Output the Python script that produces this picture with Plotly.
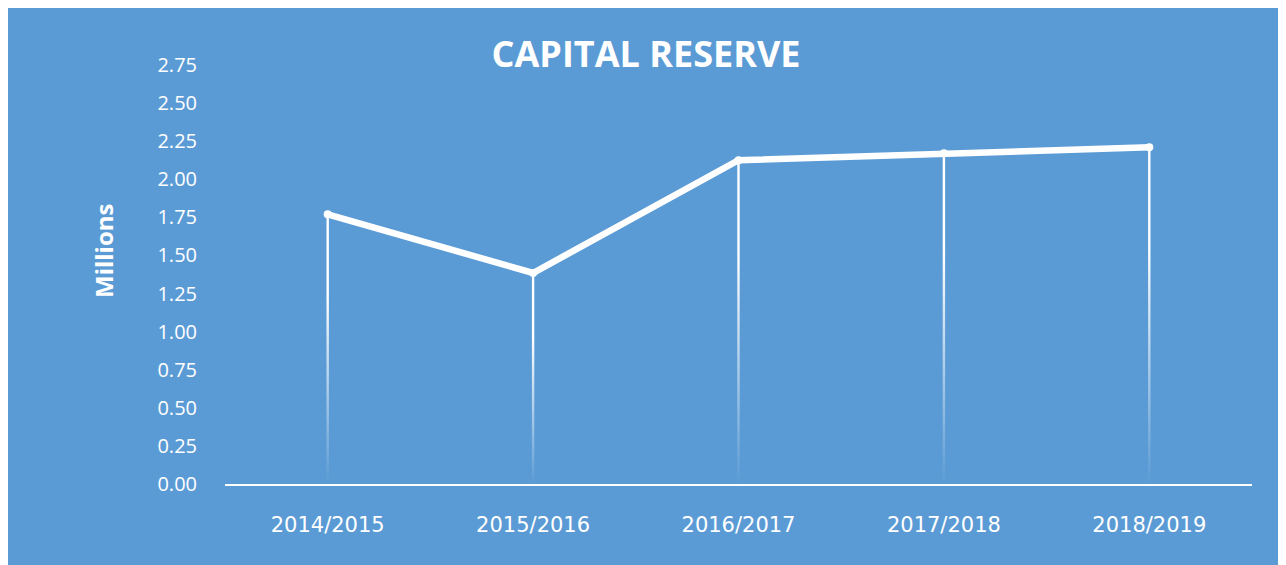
import plotly.graph_objects as go

categories = ["2014/2015", "2015/2016", "2016/2017", "2017/2018", "2018/2019"]
values = [1.77, 1.385, 2.125, 2.17, 2.21]
y_ticks = [0, 0.25, 0.5, 0.75, 1.0, 1.25, 1.5, 1.75, 2.0, 2.25, 2.5, 2.75]

BLUE = "#5B9BD5"
W, H = 1286, 565
ML, MR, MT, MB = 217, 42, 57, 89
PW = W - ML - MR

xs = list(range(len(categories)))
half_w = 1.2 * 5 / PW  # half width of drop line in data units (~1.2 px)

fig = go.Figure()

# fading drop lines as thin gradient-filled bars
for x, v in zip(xs, values):
    fig.add_trace(go.Scatter(
        x=[x - half_w, x + half_w, x + half_w, x - half_w, x - half_w],
        y=[0, 0, v, v, 0], mode="lines", fill="toself",
        line=dict(width=0, color="rgba(0,0,0,0)"),
        fillgradient=dict(type="vertical",
                          colorscale=[[0, "rgba(255,255,255,0)"],
                                      [0.7, "rgba(255,255,255,1)"],
                                      [1, "rgba(255,255,255,1)"]]),
        hoverinfo="skip", showlegend=False))

fig.add_trace(go.Scatter(
    x=xs, y=values, mode="lines+markers",
    line=dict(color="white", width=6.5),
    marker=dict(color="white", size=8),
    showlegend=False))

fig.update_layout(
    width=W, height=H,
    margin=dict(l=ML, r=MR, t=MT, b=MB),
    paper_bgcolor=BLUE,
    plot_bgcolor=BLUE,
    font=dict(family="Open Sans", color="white"),
    title=dict(text="<b>CAPITAL RESERVE</b>", x=638 / W, xanchor="center",
               y=1 - 46 / H, yanchor="middle",
               font=dict(size=36, color="white", family="Open Sans")),
    showlegend=False,
    annotations=[dict(text="<b>Millions</b>", textangle=-90,
                      xref="paper", yref="paper",
                      x=(95 - ML) / PW, y=1 - (243 - MT) / (H - MT - MB),
                      xanchor="center", yanchor="middle", showarrow=False,
                      font=dict(size=24, color="white", family="Open Sans"))],
)
fig.update_xaxes(
    range=[-0.5, 4.5], tickvals=xs, ticktext=categories,
    showgrid=False, zeroline=False,
    showline=True, linecolor="white", linewidth=2,
    ticks="outside", ticklen=21, tickcolor="rgba(0,0,0,0)",
    tickfont=dict(size=21, color="white", family="DejaVu Sans"),
)
fig.update_yaxes(
    range=[0, 2.75], tickvals=y_ticks, tickformat=".2f",
    showgrid=False, zeroline=False, showline=False,
    ticks="outside", ticklen=23, tickcolor="rgba(0,0,0,0)",
    tickfont=dict(size=20, color="white", family="Open Sans"),
)

fig.write_html("out.html")
